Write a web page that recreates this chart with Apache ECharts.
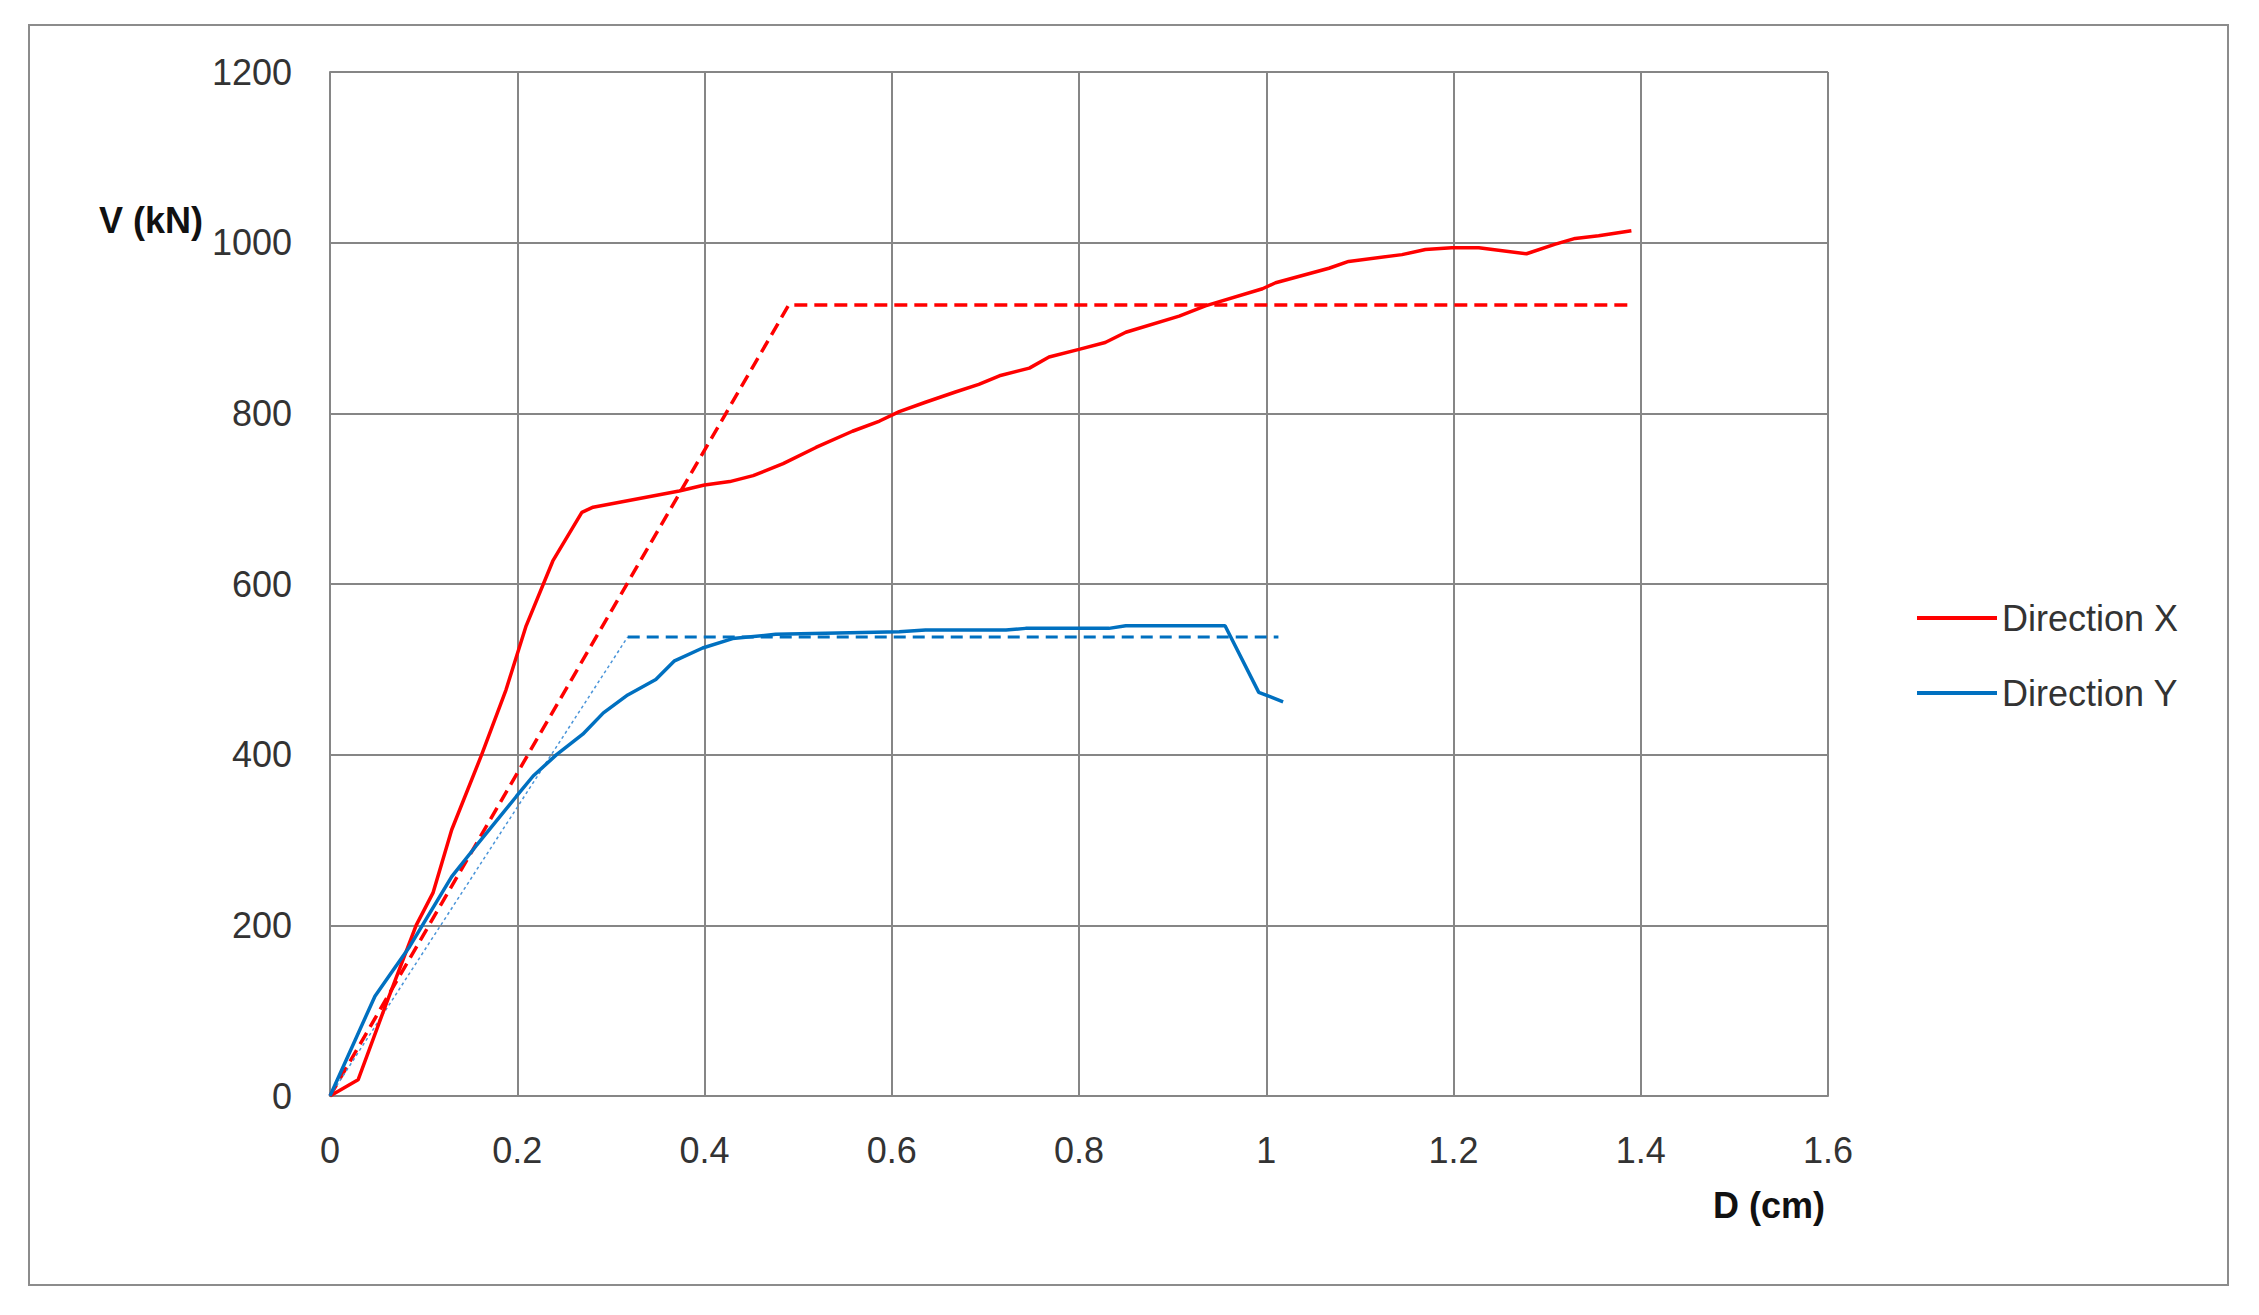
<!DOCTYPE html>
<html>
<head>
<meta charset="utf-8">
<script src="https://cdn.jsdelivr.net/npm/echarts@6/dist/echarts.min.js"></script>
<style>
html,body{margin:0;padding:0;background:#fff;}
#chart{width:2259px;height:1315px;}
</style>
</head>
<body>
<div id="chart"></div>
<script>
// Direction X (solid red) : displacement D (cm) and shear V (kN)
var dispX = [0, 0.030, 0.059, 0.092, 0.110, 0.130, 0.162, 0.188, 0.2095, 0.238, 0.269, 0.281, 0.373, 0.400, 0.427, 0.452, 0.484, 0.519, 0.558, 0.587, 0.608, 0.636, 0.668, 0.693, 0.715, 0.747, 0.768, 0.800, 0.828, 0.850, 0.907, 0.935, 0.996, 1.010, 1.067, 1.088, 1.145, 1.170, 1.198, 1.227, 1.278, 1.308, 1.330, 1.355, 1.390];
var forceX = [0, 19, 105, 200, 238, 312, 400, 476, 551, 627, 684, 690, 709, 716, 720, 727, 741, 760, 779, 791, 802, 813, 825, 834, 844, 853, 866, 875, 883, 895, 914, 926, 946, 953, 970, 978, 986, 992, 994, 994, 987, 998, 1005, 1008, 1014];
// Direction Y (solid blue)
var dispY = [0, 0.048, 0.064, 0.085, 0.130, 0.156, 0.199, 0.217, 0.242, 0.270, 0.292, 0.318, 0.348, 0.368, 0.398, 0.430, 0.476, 0.608, 0.636, 0.722, 0.743, 0.832, 0.850, 0.956, 0.992, 1.018];
var forceY = [0, 117, 142, 175, 257, 293, 351, 375, 400, 424, 449, 470, 488, 510, 525, 536, 541, 544, 546, 546, 548, 548, 551, 551, 473, 462];
// Bilinear idealisation, direction X (dashed red)
var biDispX = [0, 0.49, 1.39];
var biForceX = [0, 927, 927];
// Bilinear idealisation, direction Y: elastic branch (thin dotted) and plateau (dashed)
var biElasticDispY = [0, 0.318];
var biElasticForceY = [0, 538];
var biPlateauDispY = [0.318, 1.013];
var biPlateauForceY = [538, 538];
// Axis ticks
var xTicks = [0, 0.2, 0.4, 0.6, 0.8, 1, 1.2, 1.4, 1.6];
var yTicks = [0, 200, 400, 600, 800, 1000, 1200];

function pairs(xs, ys) { return xs.map(function (x, i) { return [x, ys[i]]; }); }

var FONT = '"Liberation Sans", Arial, sans-serif';
var GRID = '#868686';

var chart = echarts.init(document.getElementById('chart'), null, { renderer: 'svg' });
chart.setOption({
  backgroundColor: '#ffffff',
  animation: false,
  grid: { left: 330, top: 72, width: 1498, height: 1024 },
  xAxis: {
    type: 'value', min: xTicks[0], max: xTicks[xTicks.length - 1], interval: 0.2,
    axisLine: { show: true, lineStyle: { color: GRID, width: 2 } },
    axisTick: { show: false },
    splitLine: { show: true, lineStyle: { color: GRID, width: 2 } },
    axisLabel: { margin: 36, color: '#333', fontSize: 36, fontFamily: FONT,
      formatter: function (v) { return String(Math.round(v * 10) / 10); } }
  },
  yAxis: {
    type: 'value', min: yTicks[0], max: yTicks[yTicks.length - 1], interval: 200,
    axisLine: { show: true, lineStyle: { color: GRID, width: 2 } },
    axisTick: { show: false },
    splitLine: { show: true, lineStyle: { color: GRID, width: 2 } },
    axisLabel: { margin: 38, color: '#333', fontSize: 36, fontFamily: FONT,
      formatter: function (v) { return String(v); } }
  },
  legend: {
    orient: 'vertical', left: 1912, top: 595,
    data: ['Direction X', 'Direction Y'],
    icon: 'rect', itemWidth: 80, itemHeight: 4, itemGap: 39,
    textStyle: { fontSize: 36, lineHeight: 36, color: '#333', fontFamily: FONT }
  },
  graphic: [
    { type: 'rect', shape: { x: 29, y: 25, width: 2199, height: 1260 },
      style: { fill: 'none', stroke: '#8c8c8c', lineWidth: 2 }, silent: true },
    { type: 'text', x: 203, y: 220,
      style: { text: 'V (kN)', font: 'bold 36px ' + FONT, fill: '#111', textAlign: 'right', textVerticalAlign: 'middle' } },
    { type: 'text', x: 1825, y: 1205,
      style: { text: 'D (cm)', font: 'bold 36px ' + FONT, fill: '#111', textAlign: 'right', textVerticalAlign: 'middle' } }
  ],
  series: [
    { name: 'Bilinear X', type: 'line', data: pairs(biDispX, biForceX), showSymbol: false,
      lineStyle: { color: '#ff0000', width: 3.5, type: [13, 7] }, z: 3 },
    { name: 'Bilinear Y elastic', type: 'line', data: pairs(biElasticDispY, biElasticForceY), showSymbol: false,
      lineStyle: { color: '#4a94d8', width: 1.5, type: [3, 3] }, z: 3 },
    { name: 'Bilinear Y plateau', type: 'line', data: pairs(biPlateauDispY, biPlateauForceY), showSymbol: false,
      lineStyle: { color: '#0070c0', width: 3, type: [12, 7] }, z: 3 },
    { name: 'Direction X', type: 'line', data: pairs(dispX, forceX), showSymbol: false,
      itemStyle: { color: '#ff0000' }, lineStyle: { color: '#ff0000', width: 3.5 }, z: 4 },
    { name: 'Direction Y', type: 'line', data: pairs(dispY, forceY), showSymbol: false,
      itemStyle: { color: '#0070c0' }, lineStyle: { color: '#0070c0', width: 3.5 }, z: 4 }
  ]
});
</script>
</body>
</html>
